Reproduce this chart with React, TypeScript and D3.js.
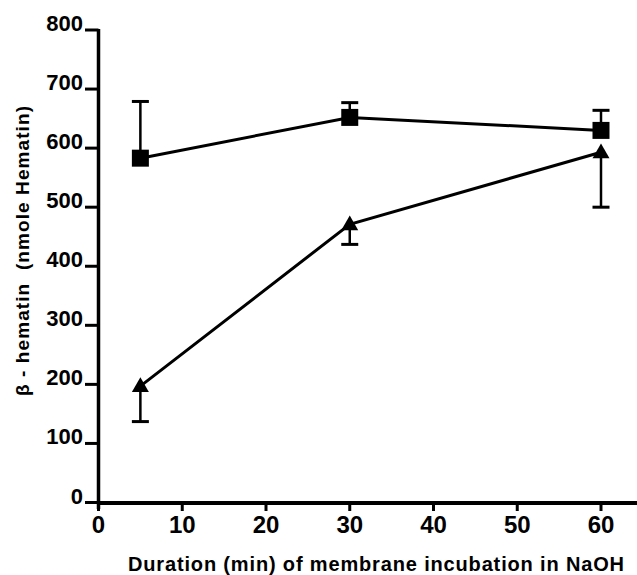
import React, { useRef, useEffect } from "react";
import { select, scaleLinear, line, symbol, symbolSquare, symbolTriangle } from "d3";

// incubation times (min)
const durations = [5, 30, 60];
// square series: mean and upper error
const squareMean = [583, 652, 630];
const squareUpper = [679, 677, 664];
// triangle series: mean and lower error
const triangleMean = [197, 471, 593];
const triangleLower = [137, 437, 500];

const yTicks = [0, 100, 200, 300, 400, 500, 600, 700, 800];
const xTicks = [0, 10, 20, 30, 40, 50, 60];

const xTitle = "Duration (min) of membrane incubation in NaOH";
const yTitle = "β - hematin  (nmole Hematin)";

const W = 637;
const H = 575;
const FONT = "'Liberation Sans', Arial, Helvetica, sans-serif";

function App() {
  const svgRef = useRef<SVGSVGElement>(null);

  useEffect(() => {
    const svg = select(svgRef.current);
    svg.selectAll("*").remove();

    const xScale = scaleLinear().domain([0, 60]).range([98.5, 601]);
    const yScale = scaleLinear().domain([0, 800]).range([502.5, 30]);

    const axes = svg.append("g").attr("class", "axes");

    // y axis line + ticks + labels
    axes
      .append("line")
      .attr("x1", 98.5)
      .attr("x2", 98.5)
      .attr("y1", yScale(800) - 1)
      .attr("y2", 509)
      .attr("stroke", "#000")
      .attr("stroke-width", 3.5);

    axes
      .selectAll(".ytick")
      .data(yTicks)
      .join("line")
      .attr("class", "ytick")
      .attr("x1", 85)
      .attr("x2", 98.5)
      .attr("y1", (d) => yScale(d))
      .attr("y2", (d) => yScale(d))
      .attr("stroke", "#000")
      .attr("stroke-width", 3);

    axes
      .selectAll(".ylabel")
      .data(yTicks)
      .join("text")
      .attr("class", "ylabel")
      .attr("x", 83)
      .attr("y", (d) => yScale(d) + 1)
      .attr("text-anchor", "end")
      .attr("font-family", FONT)
      .attr("font-weight", "bold")
      .attr("font-size", 22)
      .text((d) => d);

    // x axis line + ticks + labels
    axes
      .append("line")
      .attr("x1", 97)
      .attr("x2", W)
      .attr("y1", 503)
      .attr("y2", 503)
      .attr("stroke", "#000")
      .attr("stroke-width", 4);

    axes
      .selectAll(".xtick")
      .data(xTicks)
      .join("line")
      .attr("class", "xtick")
      .attr("x1", (d) => xScale(d))
      .attr("x2", (d) => xScale(d))
      .attr("y1", 503)
      .attr("y2", 511)
      .attr("stroke", "#000")
      .attr("stroke-width", 3);

    axes
      .selectAll(".xlabel")
      .data(xTicks)
      .join("text")
      .attr("class", "xlabel")
      .attr("x", (d) => xScale(d))
      .attr("y", 533)
      .attr("text-anchor", "middle")
      .attr("font-family", FONT)
      .attr("font-weight", "bold")
      .attr("font-size", 24)
      .text((d) => d);

    // axis titles
    svg
      .append("text")
      .attr("x", 128)
      .attr("y", 571)
      .attr("font-family", FONT)
      .attr("font-weight", "bold")
      .attr("font-size", 20)
      .attr("textLength", 496)
      .attr("lengthAdjust", "spacing")
      .text(xTitle);

    svg
      .append("text")
      .attr("transform", "translate(29, 396) rotate(-90)")
      .attr("font-family", FONT)
      .attr("font-weight", "bold")
      .attr("font-size", 19)
      .attr("textLength", 290)
      .attr("lengthAdjust", "spacing")
      .style("white-space", "pre")
      .text(yTitle);

    const plot = svg.append("g").attr("class", "content");

    // error bars
    const errs = [
      ...durations.map((d, i) => ({ x: d, y0: squareMean[i], y1: squareUpper[i] })),
      ...durations.map((d, i) => ({ x: d, y0: triangleMean[i], y1: triangleLower[i] })),
    ];
    plot
      .selectAll(".errbar")
      .data(errs)
      .join("line")
      .attr("class", "errbar")
      .attr("x1", (d) => xScale(d.x))
      .attr("x2", (d) => xScale(d.x))
      .attr("y1", (d) => yScale(d.y0))
      .attr("y2", (d) => yScale(d.y1))
      .attr("stroke", "#000")
      .attr("stroke-width", 2.5);
    plot
      .selectAll(".errcap")
      .data(errs)
      .join("line")
      .attr("class", "errcap")
      .attr("x1", (d) => xScale(d.x) - 8.5)
      .attr("x2", (d) => xScale(d.x) + 8.5)
      .attr("y1", (d) => yScale(d.y1))
      .attr("y2", (d) => yScale(d.y1))
      .attr("stroke", "#000")
      .attr("stroke-width", 3);

    // connecting lines
    const lineGen = line<number>()
      .x((d, i) => xScale(durations[i]))
      .y((d) => yScale(d));
    plot
      .selectAll(".series")
      .data([squareMean, triangleMean])
      .join("path")
      .attr("class", "series")
      .attr("d", (d) => lineGen(d))
      .attr("fill", "none")
      .attr("stroke", "#000")
      .attr("stroke-width", 3);

    // markers
    const sq = symbol().type(symbolSquare).size(17 * 17);
    plot
      .selectAll(".sq")
      .data(squareMean)
      .join("path")
      .attr("class", "sq")
      .attr("d", sq())
      .attr("transform", (d, i) => `translate(${xScale(durations[i])},${yScale(d)})`)
      .attr("fill", "#000");

    const tri = symbol().type(symbolTriangle).size(125);
    plot
      .selectAll(".tri")
      .data(triangleMean)
      .join("path")
      .attr("class", "tri")
      .attr("d", tri())
      .attr("transform", (d, i) => `translate(${xScale(durations[i])},${yScale(d) + 1})`)
      .attr("fill", "#000");
  }, []);

  return (
    <div style={{ position: "absolute", left: 0, top: 0, width: W, height: H, background: "#fff" }}>
      <svg ref={svgRef} width={W} height={H} style={{ display: "block" }} />
    </div>
  );
}

export default App;
